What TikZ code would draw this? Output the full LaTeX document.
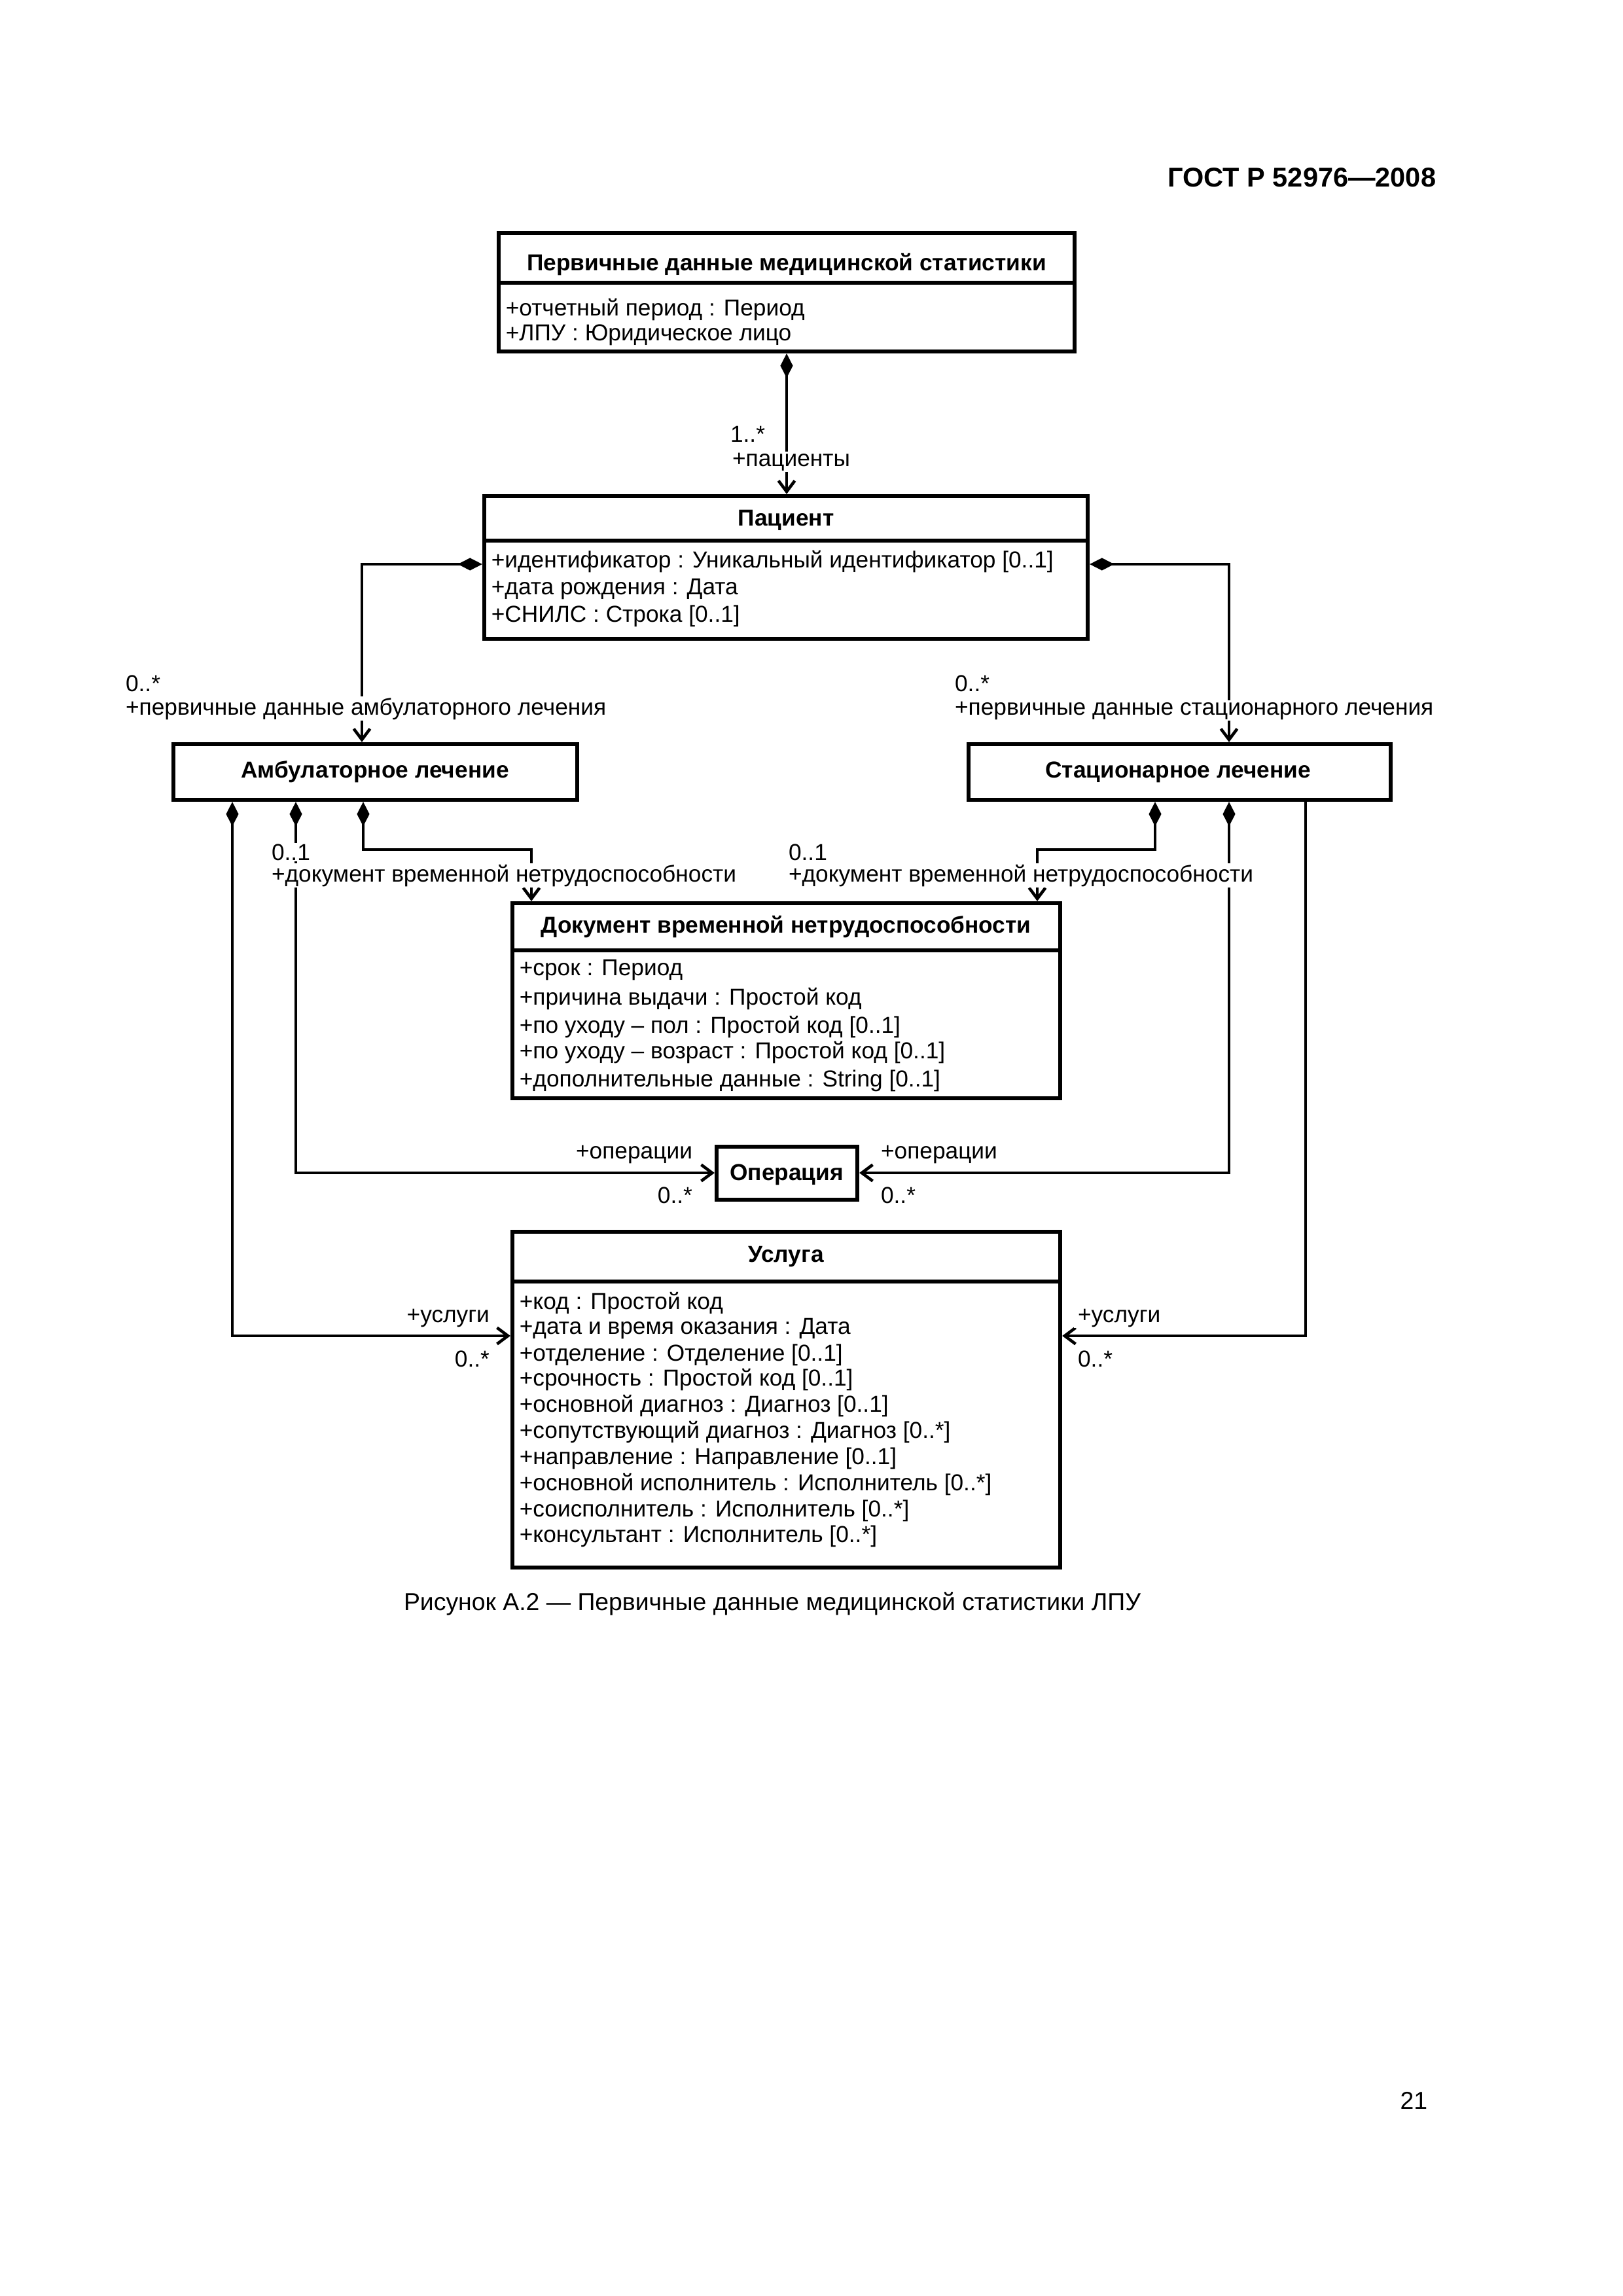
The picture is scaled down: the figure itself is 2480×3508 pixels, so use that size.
\documentclass[tikz,border=0pt]{standalone}
\usepackage{fontspec}
\setmainfont{Liberation Sans}
\usetikzlibrary{arrows.meta,fit}
\newcommand\dfont{\fontsize{8.5}{10}\selectfont}
\begin{document}
\begin{tikzpicture}[x=0.0846774mm,y=-0.0846774mm,
  box/.style={draw, line width=1.5pt, inner sep=0pt},
  divl/.style={line width=1.5pt},
  cls/.style={font=\dfont\bfseries, inner sep=0pt, anchor=base},
  attr/.style={font=\dfont, inner sep=0pt, anchor=base west},
  lbl/.style={font=\dfont, fill=white, inner xsep=1.5pt, inner ysep=0.4pt, anchor=base west},
  lblr/.style={lbl, anchor=base east},
  conn/.style={line width=1.1pt},
  comp/.style={conn, {Diamond[length=9pt,width=4.6pt]}-{Straight Barb[length=4pt,width=6pt]}},
  nav/.style={conn, -{Straight Barb[length=4pt,width=6pt]}},
]
\path[use as bounding box] (0,0) rectangle (2480,3508);

% header
\node[font=\fontsize{10}{12}\selectfont\bfseries, anchor=base east, inner sep=0pt] (hdr) at (2195,285) {ГОСТ Р 52976—2008};

% --- top class
\node[box, fit={(762,356) (1642,537)}] (top) {};
\draw[divl] (top.west |- 0,432) -- (top.east |- 0,432);
\node[cls] (topT) at (1202,413) {Первичные данные медицинской статистики};
\node[attr] (topA1) at (772,482) {+отчетный период : Период};
\node[attr] (topA2) at (772,520) {+ЛПУ : Юридическое лицо};

% --- patient
\node[box, fit={(740,758) (1662,976)}] (pat) {};
\draw[divl] (pat.west |- 0,826) -- (pat.east |- 0,826);
\node[cls] (patT) at (1201,803) {Пациент};
\node[attr] (patA1) at (750,867) {+идентификатор : Уникальный идентификатор [0..1]};
\node[attr] (patA2) at (750,908) {+дата рождения : Дата};
\node[attr] (patA3) at (750,950) {+СНИЛС : Строка [0..1]};

% --- ambulatory / stationary
\node[box, fit={(265,1137) (882,1222)}] (amb) {};
\node[cls] (ambT) at (573,1188) {Амбулаторное лечение};
\node[box, fit={(1480,1137) (2125,1222)}] (stac) {};
\node[cls] (stacT) at (1800,1188) {Стационарное лечение};

% --- document
\node[box, fit={(783,1380) (1620,1678)}] (doc) {};
\draw[divl] (doc.west |- 0,1452) -- (doc.east |- 0,1452);
\node[cls] (docT) at (1201,1425) {Документ временной нетрудоспособности};
\node[attr] (docA1) at (793,1490) {+срок : Период};
\node[attr] (docA2) at (793,1535) {+причина выдачи : Простой код};
\node[attr] (docA3) at (793,1578) {+по уходу – пол : Простой код [0..1]};
\node[attr] (docA4) at (793,1617) {+по уходу – возраст : Простой код [0..1]};
\node[attr] (docA5) at (793,1660) {+дополнительные данные : String [0..1]};

% --- operation
\node[box, fit={(1095,1752) (1310,1833)}] (op) {};
\node[cls] (opT) at (1202,1803) {Операция};

% --- service
\node[box, fit={(783,1882) (1620,2395)}] (usl) {};
\draw[divl] (usl.west |- 0,1958) -- (usl.east |- 0,1958);
\node[cls] (uslT) at (1201,1928) {Услуга};
\node[attr] (uslA1) at (793,2000) {+код : Простой код};
\node[attr] (uslA2) at (793,2038) {+дата и время оказания : Дата};
\node[attr] (uslA3) at (793,2079) {+отделение : Отделение [0..1]};
\node[attr] (uslA4) at (793,2117) {+срочность : Простой код [0..1]};
\node[attr] (uslA5) at (793,2157) {+основной диагноз : Диагноз [0..1]};
\node[attr] (uslA6) at (793,2197) {+сопутствующий диагноз : Диагноз [0..*]};
\node[attr] (uslA7) at (793,2237) {+направление : Направление [0..1]};
\node[attr] (uslA8) at (793,2277) {+основной исполнитель : Исполнитель [0..*]};
\node[attr] (uslA9) at (793,2317) {+соисполнитель : Исполнитель [0..*]};
\node[attr] (uslA10) at (793,2356) {+консультант : Исполнитель [0..*]};

% --- bend coordinates
\coordinate (kL) at (553,862);
\coordinate (kR) at (1878,862);
\coordinate (a1) at (555,1298);
\coordinate (a2) at (812,1298);
\coordinate (a3) at (452,1792);
\coordinate (a4) at (355,2041);
\coordinate (b1) at (1765,1298);
\coordinate (b2) at (1585,1298);
\coordinate (b3) at (1878,1792);
\coordinate (b4) at (1995,2041);

% --- connectors
\draw[comp] (top.south) -- (top.south |- pat.north);
\draw[comp] (pat.west |- kL) -- (kL) -- (kL |- amb.north);
\draw[comp] (pat.east |- kR) -- (kR) -- (kR |- stac.north);
\draw[comp] (amb.south -| a1) -- (a1) -- (a2) -- (a2 |- doc.north);
\draw[comp] (amb.south -| a3) -- (a3) -- (a3 -| op.west);
\draw[comp] (amb.south -| a4) -- (a4) -- (a4 -| usl.west);
\draw[comp] (stac.south -| b1) -- (b1) -- (b2) -- (b2 |- doc.north);
\draw[comp] (stac.south -| b3) -- (b3) -- (b3 -| op.east);
\draw[nav] (stac.south -| b4) -- (b4) -- (b4 -| usl.east);

% --- labels
\node[lbl] (l1b) at (1112,712) {+пациенты};
\node[lbl] (l1a) at (1109,675) {1..*};
\node[lbl] (l2b) at (185,1092) {+первичные данные амбулаторного лечения};
\node[lbl] (l2a) at (185,1056) {0..*};
\node[lbl] (l3b) at (1452,1092) {+первичные данные стационарного лечения};
\node[lbl] (l3a) at (1452,1056) {0..*};
\node[lbl] (l4b) at (408,1347) {+документ временной нетрудоспособности};
\node[lbl] (l4a) at (408,1314) {0..1};
\node[lbl] (l5b) at (1198,1347) {+документ временной нетрудоспособности};
\node[lbl] (l5a) at (1198,1314) {0..1};
\node[lblr] (l6a) at (1065,1770) {+операции};
\node[lblr] (l6b) at (1065,1838) {0..*};
\node[lbl] (l7a) at (1339,1770) {+операции};
\node[lbl] (l7b) at (1339,1838) {0..*};
\node[lblr] (l8a) at (755,2020) {+услуги};
\node[lblr] (l8b) at (755,2088) {0..*};
\node[lbl] (l9a) at (1640,2020) {+услуги};
\node[lbl] (l9b) at (1640,2088) {0..*};

% caption and page number
\node[font=\fontsize{9}{11}\selectfont, anchor=base, inner sep=0pt] (cap) at (1180,2460) {Рисунок А.2 — Первичные данные медицинской статистики ЛПУ};
\node[font=\fontsize{9}{11}\selectfont, anchor=base east, inner sep=0pt] (pg) at (2182,3222) {21};
\end{tikzpicture}
\end{document}
